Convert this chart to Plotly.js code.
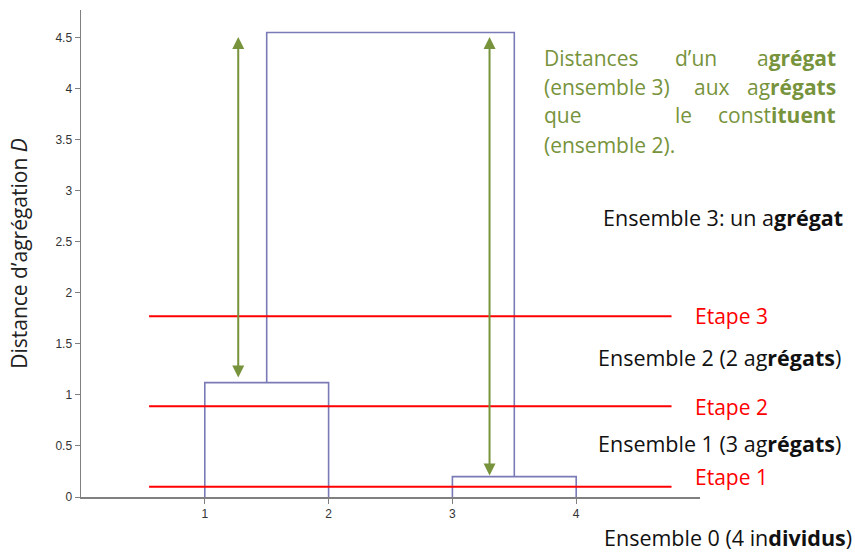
<!DOCTYPE html>
<html>
<head>
<meta charset="utf-8">
<script src="https://cdn.plot.ly/plotly-3.0.1.min.js"></script>
<style>
  html, body { margin: 0; padding: 0; background: #fff; }
  #chart { width: 855px; height: 552px; }
</style>
</head>
<body>
<div id="chart"></div>
<script>
// Dendrogram links (U shapes): left/right x, heights of children, merge height
const linkLeft = [1, 3, 1.5]
const linkRight = [2, 4, 3.5]
const childLeft = [0, 0, 1.12]
const childRight = [0, 0, 0.2]
const linkHeight = [1.12, 0.2, 4.55]

// Cut levels ("Etape")
const stepHeights = [0.1, 0.89, 1.77]
const stepLabels = ['Etape 1', 'Etape 2', 'Etape 3']
const stepStart = 0.55
const stepEnd = 4.77

// Green arrows: distance from the aggregate to its parts
const arrowX = [1.27, 3.3]
const arrowTop = [4.52, 4.52]
const arrowBottom = [1.17, 0.21]

const xTicks = [1, 2, 3, 4]
const yTicks = [0, 0.5, 1, 1.5, 2, 2.5, 3, 3.5, 4, 4.5]

const ensembleLabels = [
    'Ensemble 3: un a<b>grégat</b>',
    'Ensemble 2 (2 ag<b>régats</b>)',
    'Ensemble 1 (3 ag<b>régats</b>)',
    'Ensemble 0 (4 in<b>dividus</b>)'
]

const DENDRO = '#7a7ab6'
const GREEN = '#77933c'
const FONT = '"Open Sans", sans-serif'

// plot box in pixels, used to place the free text
const L = 81, R = 700, T = 10, B = 497
const px = x => (x - L) / (R - L)
const py = y => (B - y) / (B - T)

const traces = []

linkLeft.forEach((xl, i) => {
    traces.push({
        x: [xl, xl, linkRight[i], linkRight[i]],
        y: [childLeft[i], linkHeight[i], linkHeight[i], childRight[i]],
        type: 'scatter',
        mode: 'lines',
        line: { color: DENDRO, width: 1.6 },
        hoverinfo: 'skip'
    })
})

stepHeights.forEach(h => {
    traces.push({
        x: [stepStart, stepEnd],
        y: [h, h],
        type: 'scatter',
        mode: 'lines',
        line: { color: '#ff0000', width: 2 },
        hoverinfo: 'skip'
    })
})

const annotations = []

arrowX.forEach((x, i) => {
    annotations.push({
        x: x, y: arrowBottom[i], ax: x, ay: arrowTop[i],
        xref: 'x', yref: 'y', axref: 'x', ayref: 'y',
        text: '', showarrow: true,
        arrowside: 'end+start', arrowhead: 2, arrowsize: 1.2,
        arrowwidth: 2, arrowcolor: GREEN, standoff: 0, startstandoff: 0
    })
})

// Etape labels
const stepLabelY = [477, 407, 316]
stepLabels.forEach((t, i) => {
    annotations.push({
        x: px(693), y: py(stepLabelY[i]), xref: 'paper', yref: 'paper',
        xanchor: 'left', yanchor: 'middle', showarrow: false,
        text: t, font: { family: FONT, size: 21, color: '#ff0000' }
    })
})

// Ensemble labels
const ensembleX = [601, 596, 596, 602]
const ensembleY = [217, 357, 443, 537]
ensembleLabels.forEach((t, i) => {
    annotations.push({
        x: px(ensembleX[i]), y: py(ensembleY[i]), xref: 'paper', yref: 'paper',
        xanchor: 'left', yanchor: 'middle', showarrow: false,
        text: t, font: { family: FONT, size: 21.5, color: '#111' }
    })
})

// Justified green paragraph, placed piece by piece
const greenPieces = [
    ['Distances', 542, 58, 'left'], ['d’un', 696, 58, 'center'], ['a<b>grégat</b>', 838, 58, 'right'],
    ['(ensemble 3)', 542, 87, 'left'], ['aux', 712, 87, 'center'], ['ag<b>régats</b>', 838, 87, 'right'],
    ['que', 542, 115, 'left'], ['le', 683, 115, 'center'], ['const<b>ituent</b>', 838, 115, 'right'],
    ['(ensemble 2).', 542, 145, 'left']
]
greenPieces.forEach(([t, x, y, anchor]) => {
    annotations.push({
        x: px(x), y: py(y), xref: 'paper', yref: 'paper',
        xanchor: anchor, yanchor: 'middle', showarrow: false,
        text: t, font: { family: FONT, size: 21, color: GREEN }
    })
})

const layout = {
    width: 855,
    height: 552,
    margin: { l: L, r: 855 - R, t: T, b: 552 - B },
    paper_bgcolor: '#fff',
    plot_bgcolor: '#fff',
    showlegend: false,
    xaxis: {
        range: [0, 5],
        tickvals: xTicks,
        ticktext: xTicks.map(String),
        showgrid: false, zeroline: false,
        showline: true, linecolor: '#808080', linewidth: 1.5,
        ticks: 'outside', ticklen: 5, tickcolor: '#808080',
        tickfont: { family: 'Arial, sans-serif', size: 12, color: '#333' }
    },
    yaxis: {
        range: [0, 4.77],
        tickvals: yTicks,
        ticktext: yTicks.map(String),
        showgrid: false, zeroline: false,
        showline: true, linecolor: '#808080', linewidth: 1.5,
        ticks: 'outside', ticklen: 5, tickcolor: '#808080',
        tickfont: { family: 'Arial, sans-serif', size: 12, color: '#333' },
        title: {
            text: 'Distance d’agrégation <i>D</i>',
            font: { family: FONT, size: 21, color: '#222' },
            standoff: 22
        }
    },
    annotations: annotations
}

Plotly.newPlot('chart', traces, layout, { displayModeBar: false, staticPlot: true })
</script>
</body>
</html>
